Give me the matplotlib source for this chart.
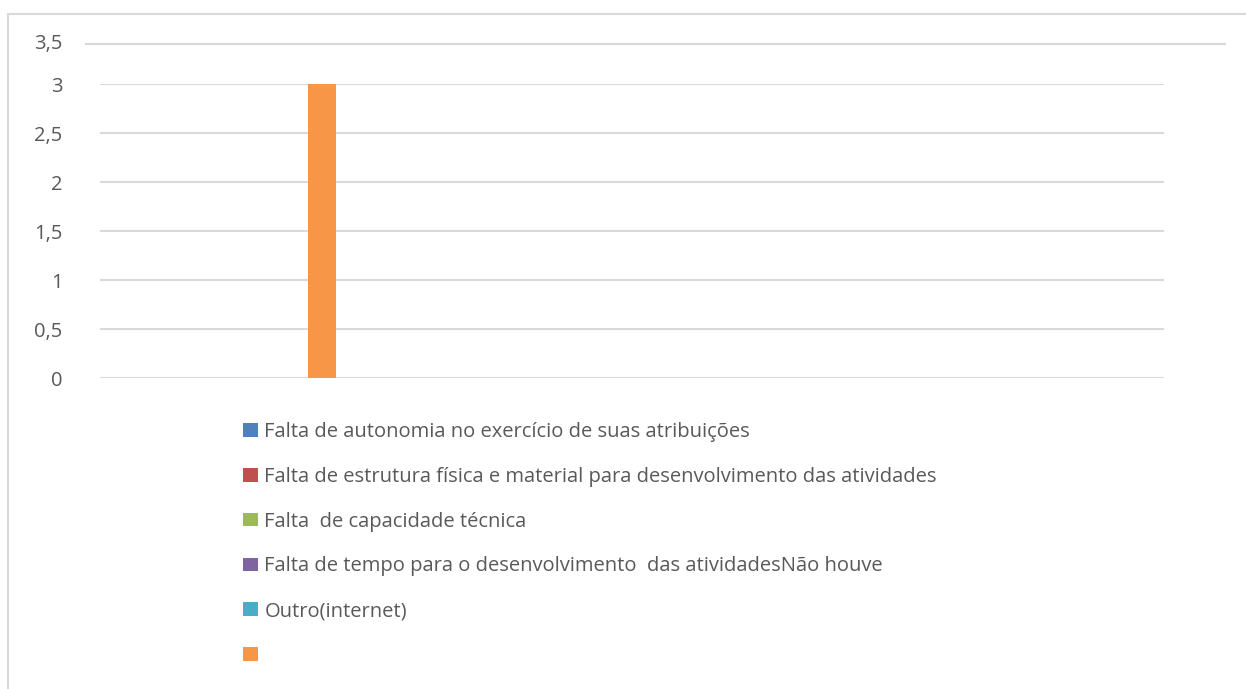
import matplotlib.pyplot as plt
from matplotlib.lines import Line2D
from matplotlib.patches import Rectangle
from matplotlib.ticker import FuncFormatter

series = [
    "Falta de autonomia no exercício de suas atribuições",
    "Falta de estrutura física e material para desenvolvimento das atividades",
    "Falta  de capacidade técnica",
    "Falta de tempo para o desenvolvimento  das atividadesNão houve",
    "Outro(internet)",
    " ",
]
valores = [0, 0, 0, 0, 0, 3]
cores = ["#4F81BD", "#C0504D", "#9BBB59", "#8064A2", "#4BACC6", "#F79646"]
yticks = [0, 0.5, 1, 1.5, 2, 2.5, 3]

plt.rcParams["font.family"] = ["Open Sans", "DejaVu Sans"]
W, H = 1246, 689
fs = 14.5
fig = plt.figure(figsize=(W / 100, H / 100), dpi=100)

# moldura cinza do grafico
fig.add_artist(Rectangle((8 / W, -0.01), 1.05, (H - 14) / H + 0.01,
                         transform=fig.transFigure, fill=False,
                         edgecolor="#D9D9D9", linewidth=1.5))

ax = fig.add_axes([100 / W, (H - 378) / H, 1064 / W, 294 / H])

largura = 0.1
barras = []
for i, (nome, v, c) in enumerate(zip(series, valores, cores)):
    b = ax.bar((i - 2.5) * largura, v, largura, color=c, label=nome, zorder=3)
    barras.append(b)

ax.set_xlim(-0.543, 3.257)
ax.set_ylim(0, 3)
ax.set_yticks(yticks)
ax.yaxis.set_major_formatter(FuncFormatter(lambda v, p: f"{v:g}".replace(".", ",")))
ax.tick_params(axis="y", length=0, pad=27, labelsize=fs, labelcolor="#595959")
ax.set_xticks([])
ax.grid(axis="y", color="#D9D9D9", linewidth=1.5, zorder=0)
for s in ax.spines.values():
    s.set_visible(False)

# linha de 3,5 (fora do eixo, como no original)
fig.add_artist(Line2D([86 / W, 1225 / W], [(H - 44) / H] * 2,
                      transform=fig.transFigure, color="#D9D9D9", linewidth=1.5))
fig.text(62 / W, (H - 44) / H, "3,5", ha="right", va="center",
         fontsize=fs, color="#595959")

handles = [b[0] for b in barras]
leg = ax.legend(handles, series, loc="upper left", bbox_to_anchor=(225 / W, (H - 404) / H),
                bbox_transform=fig.transFigure, frameon=False, fontsize=fs,
                labelcolor="#595959", handlelength=0.75, handleheight=0.65,
                handletextpad=0.3, labelspacing=1.23)

fig.savefig("out.png", dpi=100)
